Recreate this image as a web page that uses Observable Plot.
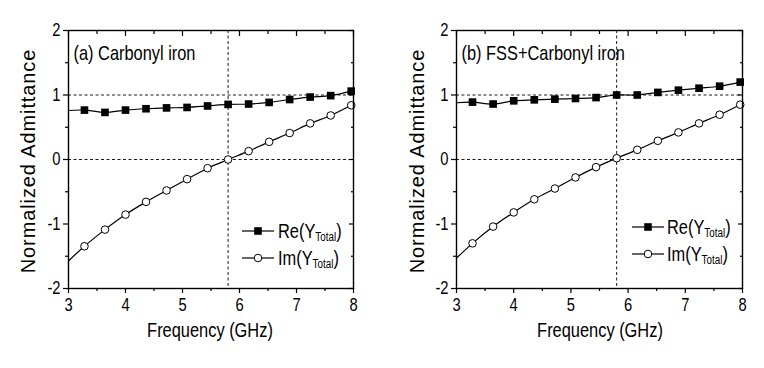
<!DOCTYPE html>
<html><head><meta charset="utf-8">
<script src="https://cdn.jsdelivr.net/npm/d3@7"></script>
<script src="https://cdn.jsdelivr.net/npm/@observablehq/plot@0.6"></script>
<style>
body{margin:0;background:#fff;}
#wrap{position:relative;width:764px;height:368px;overflow:hidden;background:#fff;font-family:"Liberation Sans",Arial,sans-serif;color:#000;}
.panel{position:absolute;top:0;width:382px;height:368px;}
.ytitle{position:absolute;font-size:20px;letter-spacing:0.9px;line-height:20px;transform:translate(-50%,-50%) rotate(-90deg);white-space:nowrap;}
.xtitle{position:absolute;font-size:20px;line-height:20px;transform:translateX(-50%) scaleX(0.82);white-space:nowrap;}
.leg{position:absolute;font-size:20px;line-height:20px;white-space:nowrap;transform-origin:0 50%;transform:scaleX(0.82);}
.leg .sub{font-size:12px;position:relative;top:3px;}
.sym{position:absolute;}
</style>
</head><body>
<div id="wrap"></div>
<script>
// ---- data ----
const freq = [3.0, 3.28, 3.64, 4.0, 4.36, 4.72, 5.08, 5.44, 5.8, 6.16, 6.52, 6.88, 7.24, 7.6, 7.96];
const reA = [0.76, 0.766, 0.73, 0.766, 0.787, 0.80, 0.807, 0.83, 0.854, 0.86, 0.885, 0.93, 0.968, 0.99, 1.06];
const imA = [-1.573, -1.345, -1.087, -0.854, -0.657, -0.48, -0.305, -0.135, 0.0, 0.13, 0.274, 0.41, 0.56, 0.683, 0.84];
const reB = [0.88, 0.89, 0.86, 0.91, 0.925, 0.936, 0.946, 0.96, 1.0, 1.0, 1.04, 1.075, 1.105, 1.136, 1.20];
const imB = [-1.53, -1.30, -1.04, -0.82, -0.617, -0.45, -0.278, -0.118, 0.02, 0.15, 0.29, 0.42, 0.56, 0.694, 0.85];
const panelLabels = ["(a) Carbonyl iron", "(b) FSS+Carbonyl iron"];
const xTicks = [3, 4, 5, 6, 7, 8];
const xMinor = [3.5, 4.5, 5.5, 6.5, 7.5];
const yTicks = [-2, -1, 0, 1, 2];
const yMinor = [-1.5, -0.5, 0.5, 1.5];
const refX = [5.8];
const refY = [0, 1];
const xTitle = "Frequency (GHz)";
const yTitle = "Normalized Admittance";
const seriesNames = ["Re", "Im"];

const SX = 0.82; // horizontal squeeze to mimic a narrow face

function squeezeText(svg) {
  // Plot positions each text with a translate() transform; squeeze about that anchor
  svg.querySelectorAll("text").forEach(t => {
    const tr = t.getAttribute("transform");
    if (tr) t.setAttribute("transform", tr + ` scale(${SX},1)`);
  });
  return svg;
}

function panel(re, im, label, ml, mr) {
  const rows = freq.map((f, i) => ({f, re: re[i], im: im[i]}));
  const pts = rows.filter(d => d.f > 3);
  const tk = (o) => ({label: null, ...o});
  const svg = Plot.plot({
    width: 382, height: 368,
    marginLeft: ml, marginRight: mr, marginTop: 30, marginBottom: 80,
    x: {domain: [3, 8]},
    y: {domain: [-2, 2]},
    style: {fontFamily: '"Liberation Sans",Arial,sans-serif', fontSize: "18px", color: "black", background: "white", overflow: "visible"},
    marks: [
      Plot.ruleY(refY, {y: d => d, stroke: "black", strokeWidth: 0.9, strokeDasharray: "3,2.5"}),
      Plot.ruleX(refX, {x: d => d, stroke: "black", strokeWidth: 0.9, strokeDasharray: "3,2.5"}),
      Plot.line(rows, {x: "f", y: "re", curve: "catmull-rom", stroke: "black", strokeWidth: 1.2}),
      Plot.line(rows, {x: "f", y: "im", curve: "catmull-rom", stroke: "black", strokeWidth: 1.2}),
      Plot.dot(pts, {x: "f", y: "re", symbol: "square", r: 4.3, fill: "black", stroke: "none"}),
      Plot.dot(pts, {x: "f", y: "im", symbol: "circle", r: 3.8, fill: "white", stroke: "black", strokeWidth: 1}),
      Plot.frame({stroke: "black", strokeWidth: 1.4}),
      Plot.axisX(xTicks, tk({anchor: "bottom", tickSize: 5, fill: "none", strokeWidth: 1.2})),
      Plot.axisX(xTicks, tk({anchor: "top", tickSize: -5, fill: "none", strokeWidth: 1.2})),
      Plot.axisX(xMinor, tk({anchor: "bottom", tickSize: 3, fill: "none", strokeWidth: 1.2})),
      Plot.axisX(xMinor, tk({anchor: "top", tickSize: -3, fill: "none", strokeWidth: 1.2})),
      Plot.axisY(yTicks, tk({anchor: "left", tickSize: 5, fill: "none", strokeWidth: 1.2})),
      Plot.axisY(yTicks, tk({anchor: "right", tickSize: -5, fill: "none", strokeWidth: 1.2})),
      Plot.axisY(yMinor, tk({anchor: "left", tickSize: 3, fill: "none", strokeWidth: 1.2})),
      Plot.axisY(yMinor, tk({anchor: "right", tickSize: -3, fill: "none", strokeWidth: 1.2})),
      Plot.axisX(xTicks, tk({anchor: "bottom", tickSize: 0, tickPadding: 10, tickFormat: d => String(d), fontSize: 18})),
      Plot.axisY(yTicks, tk({anchor: "left", tickSize: 0, tickPadding: 8, tickFormat: d => String(d), fontSize: 18})),
      Plot.text([label], {text: d => d, frameAnchor: "top-left", dx: 5, dy: 15, textAnchor: "start", lineAnchor: "top", fontSize: 20})
    ]
  });
  return squeezeText(svg);
}

const wrap = document.getElementById("wrap");
const cfg = [
  {re: reA, im: imA, left: 0, ml: 68, mr: 29, yt: 28, xt: 210, legX: 242, legTxt: 278, legY: [231, 258]},
  {re: reB, im: imB, left: 382, ml: 74, mr: 22, yt: 416.5, xt: 599.5, legX: 632, legTxt: 667, legY: [227, 254]}
];
cfg.forEach((c, i) => {
  const div = document.createElement("div");
  div.className = "panel";
  div.style.left = c.left + "px";
  div.appendChild(panel(c.re, c.im, panelLabels[i], c.ml, c.mr));
  wrap.appendChild(div);

  const yt = document.createElement("div");
  yt.className = "ytitle"; yt.textContent = yTitle;
  yt.style.left = c.yt + "px"; yt.style.top = "161px";
  wrap.appendChild(yt);

  const xt = document.createElement("div");
  xt.className = "xtitle"; xt.textContent = xTitle;
  xt.style.left = c.xt + "px"; xt.style.top = "320px";
  wrap.appendChild(xt);

  seriesNames.forEach((name, k) => {
    const cy = c.legY[k];
    const ns = "http://www.w3.org/2000/svg";
    const s = document.createElementNS(ns, "svg");
    s.setAttribute("class", "sym");
    s.setAttribute("width", 32); s.setAttribute("height", 12);
    s.style.left = c.legX + "px"; s.style.top = (cy - 6) + "px";
    const ln = document.createElementNS(ns, "line");
    ln.setAttribute("x1", 0); ln.setAttribute("x2", 32); ln.setAttribute("y1", 6); ln.setAttribute("y2", 6);
    ln.setAttribute("stroke", "black"); ln.setAttribute("stroke-width", 1.2);
    s.appendChild(ln);
    if (k === 0) {
      const r = document.createElementNS(ns, "rect");
      r.setAttribute("x", 12.2); r.setAttribute("y", 2.2); r.setAttribute("width", 7.6); r.setAttribute("height", 7.6);
      r.setAttribute("fill", "black");
      s.appendChild(r);
    } else {
      const ci = document.createElementNS(ns, "circle");
      ci.setAttribute("cx", 16); ci.setAttribute("cy", 6); ci.setAttribute("r", 3.8);
      ci.setAttribute("fill", "white"); ci.setAttribute("stroke", "black");
      s.appendChild(ci);
    }
    wrap.appendChild(s);
    const t = document.createElement("div");
    t.className = "leg";
    t.style.left = c.legTxt + "px"; t.style.top = (cy - 9.7) + "px";
    t.innerHTML = name + '(Y<span class="sub">Total</span>)';
    wrap.appendChild(t);
  });
});
</script>
</body></html>
